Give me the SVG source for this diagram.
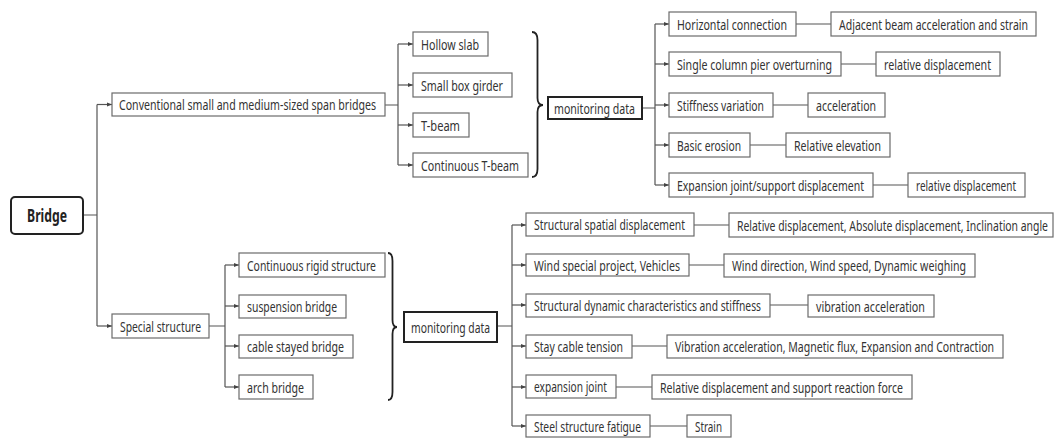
<svg xmlns="http://www.w3.org/2000/svg" width="1056" height="439" viewBox="0 0 1056 439">
<defs>
<style>
.b{fill:#fff;stroke:#6b6b6b;stroke-width:1.2}
.k{fill:#fff;stroke:#222;stroke-width:2}
.t{font-family:"Noto Sans","Liberation Sans",sans-serif;font-size:15px;fill:#333}
.tb{font-family:"Noto Sans","Liberation Sans",sans-serif;font-size:18px;font-weight:bold;fill:#222}
.c{fill:none;stroke:#555;stroke-width:1.2}
.br{fill:none;stroke:#222;stroke-width:1.8}
</style>
<marker id="a" markerUnits="userSpaceOnUse" markerWidth="5" markerHeight="5" refX="5" refY="2.5" orient="auto">
<path d="M0,0.5 L5,2.5 L0,4.5 z" fill="#444"/>
</marker>
</defs>
<rect width="1056" height="439" fill="#fff"/>
<g id="connectors">
<path class="c" d="M83,215 H97 M97,104.5 V326"/>
<path class="c" marker-end="url(#a)" d="M97,104.5 H112"/>
<path class="c" marker-end="url(#a)" d="M97,326 H112"/>
<path class="c" d="M385,105 H398 M398,44 V165"/>
<path class="c" marker-end="url(#a)" d="M398,44 H413"/>
<path class="c" marker-end="url(#a)" d="M398,85 H413"/>
<path class="c" marker-end="url(#a)" d="M398,125 H413"/>
<path class="c" marker-end="url(#a)" d="M398,165 H413"/>
<path class="c" d="M642,108 H655 M655,24 V185"/>
<path class="c" marker-end="url(#a)" d="M655,24 H669"/>
<path class="c" marker-end="url(#a)" d="M655,64 H669"/>
<path class="c" marker-end="url(#a)" d="M655,105 H669"/>
<path class="c" marker-end="url(#a)" d="M655,145 H669"/>
<path class="c" marker-end="url(#a)" d="M655,185 H669"/>
<path class="c" d="M796,24 H831 M841,64 H876 M773,105 H808 M750,145 H786 M873,185 H908"/>
<path class="c" d="M209,326 H225 M225,265 V387"/>
<path class="c" marker-end="url(#a)" d="M225,265 H239"/>
<path class="c" marker-end="url(#a)" d="M225,306 H239"/>
<path class="c" marker-end="url(#a)" d="M225,346 H239"/>
<path class="c" marker-end="url(#a)" d="M225,387 H239"/>
<path class="c" d="M497,326 H512 M512,225 V426"/>
<path class="c" marker-end="url(#a)" d="M512,225 H526"/>
<path class="c" marker-end="url(#a)" d="M512,265 H526"/>
<path class="c" marker-end="url(#a)" d="M512,305 H526"/>
<path class="c" marker-end="url(#a)" d="M512,346 H526"/>
<path class="c" marker-end="url(#a)" d="M512,387 H526"/>
<path class="c" marker-end="url(#a)" d="M512,426 H526"/>
<path class="c" d="M694,225 H729 M689,265 H724 M770,305 H808 M632,346 H667 M616,387 H652 M650,426 H687"/>
</g>
<g id="brace-top"><path class="br" d="M532,32 Q537.5,32 537.5,40 L537.5,98 Q537.5,105 543,105 Q537.5,105 537.5,112 L537.5,169 Q537.5,177 532,177"/></g>
<g id="brace-bottom"><path class="br" d="M388,253 Q392.5,253 392.5,261 L392.5,320 Q392.5,327 397,327 Q392.5,327 392.5,334 L392.5,392 Q392.5,400 388,400"/></g>
<g id="bridge"><rect class="k" x="11" y="197" width="72" height="37" rx="4"/><text class="tb" x="27" y="222" textLength="40" lengthAdjust="spacingAndGlyphs">Bridge</text></g>
<g id="conventional"><rect class="b" x="112" y="93" width="273" height="23"/><text class="t" x="119" y="110" textLength="257" lengthAdjust="spacingAndGlyphs">Conventional small and medium-sized span bridges</text></g>
<g id="special"><rect class="b" x="112" y="314" width="97" height="24"/><text class="t" x="120" y="331.5" textLength="81" lengthAdjust="spacingAndGlyphs">Special structure</text></g>
<g id="hollow"><rect class="b" x="413" y="32" width="75" height="24"/><text class="t" x="421" y="49.5" textLength="58" lengthAdjust="spacingAndGlyphs">Hollow slab</text></g>
<g id="smallbox"><rect class="b" x="413" y="73" width="99" height="24"/><text class="t" x="421" y="90.5" textLength="82" lengthAdjust="spacingAndGlyphs">Small box girder</text></g>
<g id="tbeam"><rect class="b" x="413" y="113" width="56" height="24"/><text class="t" x="421" y="130.5" textLength="39" lengthAdjust="spacingAndGlyphs">T-beam</text></g>
<g id="ctbeam"><rect class="b" x="413" y="153" width="115" height="24"/><text class="t" x="421" y="170.5" textLength="98" lengthAdjust="spacingAndGlyphs">Continuous T-beam</text></g>
<g id="monitor1"><rect class="k" x="548" y="97" width="94" height="22"/><text class="t" x="554" y="113.5" textLength="81" lengthAdjust="spacingAndGlyphs">monitoring data</text></g>
<g id="hconn"><rect class="b" x="669" y="12" width="127" height="24"/><text class="t" x="677" y="29.5" textLength="110" lengthAdjust="spacingAndGlyphs">Horizontal connection</text></g>
<g id="adjacent"><rect class="b" x="831" y="12" width="205" height="24"/><text class="t" x="839" y="29.5" textLength="189" lengthAdjust="spacingAndGlyphs">Adjacent beam acceleration and strain</text></g>
<g id="single"><rect class="b" x="669" y="52" width="172" height="24"/><text class="t" x="677" y="69.5" textLength="155" lengthAdjust="spacingAndGlyphs">Single column pier overturning</text></g>
<g id="reldisp1"><rect class="b" x="876" y="52" width="124" height="24"/><text class="t" x="884" y="69.5" textLength="107" lengthAdjust="spacingAndGlyphs">relative displacement</text></g>
<g id="stiff"><rect class="b" x="669" y="93" width="104" height="24"/><text class="t" x="677" y="110.5" textLength="87" lengthAdjust="spacingAndGlyphs">Stiffness variation</text></g>
<g id="accel"><rect class="b" x="808" y="93" width="77" height="24"/><text class="t" x="816" y="110.5" textLength="60" lengthAdjust="spacingAndGlyphs">acceleration</text></g>
<g id="erosion"><rect class="b" x="669" y="133" width="81" height="24"/><text class="t" x="677" y="150.5" textLength="64" lengthAdjust="spacingAndGlyphs">Basic erosion</text></g>
<g id="relelev"><rect class="b" x="786" y="133" width="104" height="24"/><text class="t" x="794" y="150.5" textLength="87" lengthAdjust="spacingAndGlyphs">Relative elevation</text></g>
<g id="expsupport"><rect class="b" x="669" y="173" width="204" height="24"/><text class="t" x="677" y="190.5" textLength="187" lengthAdjust="spacingAndGlyphs">Expansion joint/support displacement</text></g>
<g id="reldisp2"><rect class="b" x="908" y="173" width="117" height="24"/><text class="t" x="916" y="190.5" textLength="100" lengthAdjust="spacingAndGlyphs">relative displacement</text></g>
<g id="rigid"><rect class="b" x="239" y="253" width="146" height="24"/><text class="t" x="247" y="270.5" textLength="129" lengthAdjust="spacingAndGlyphs">Continuous rigid structure</text></g>
<g id="suspension"><rect class="b" x="239" y="295" width="107" height="23"/><text class="t" x="247" y="312" textLength="90" lengthAdjust="spacingAndGlyphs">suspension bridge</text></g>
<g id="cable"><rect class="b" x="239" y="335" width="114" height="23"/><text class="t" x="247" y="352" textLength="97" lengthAdjust="spacingAndGlyphs">cable stayed bridge</text></g>
<g id="arch"><rect class="b" x="239" y="375" width="74" height="24"/><text class="t" x="247" y="392.5" textLength="57" lengthAdjust="spacingAndGlyphs">arch bridge</text></g>
<g id="monitor2"><rect class="k" x="404" y="312" width="93" height="30"/><text class="t" x="411" y="332.5" textLength="79" lengthAdjust="spacingAndGlyphs">monitoring data</text></g>
<g id="spatial"><rect class="b" x="526" y="213" width="168" height="23"/><text class="t" x="534" y="230" textLength="151" lengthAdjust="spacingAndGlyphs">Structural spatial displacement</text></g>
<g id="reldispabs"><rect class="b" x="729" y="213" width="324" height="24"/><text class="t" x="737" y="230.5" textLength="311" lengthAdjust="spacingAndGlyphs">Relative displacement, Absolute displacement, Inclination angle</text></g>
<g id="wind"><rect class="b" x="526" y="254" width="163" height="22"/><text class="t" x="534" y="270.5" textLength="146" lengthAdjust="spacingAndGlyphs">Wind special project, Vehicles</text></g>
<g id="winddir"><rect class="b" x="724" y="254" width="251" height="23"/><text class="t" x="732" y="271" textLength="234" lengthAdjust="spacingAndGlyphs">Wind direction, Wind speed, Dynamic weighing</text></g>
<g id="dynamic"><rect class="b" x="526" y="294" width="244" height="23"/><text class="t" x="534" y="311" textLength="227" lengthAdjust="spacingAndGlyphs">Structural dynamic characteristics and stiffness</text></g>
<g id="vibacc"><rect class="b" x="808" y="295" width="126" height="22"/><text class="t" x="816" y="311.5" textLength="109" lengthAdjust="spacingAndGlyphs">vibration acceleration</text></g>
<g id="staycable"><rect class="b" x="526" y="335" width="106" height="23"/><text class="t" x="534" y="352" textLength="89" lengthAdjust="spacingAndGlyphs">Stay cable tension</text></g>
<g id="vibmag"><rect class="b" x="667" y="335" width="336" height="23"/><text class="t" x="675" y="352" textLength="319" lengthAdjust="spacingAndGlyphs">Vibration acceleration, Magnetic flux, Expansion and Contraction</text></g>
<g id="expjoint"><rect class="b" x="526" y="375" width="90" height="23"/><text class="t" x="534" y="392" textLength="73" lengthAdjust="spacingAndGlyphs">expansion joint</text></g>
<g id="reldispsupport"><rect class="b" x="652" y="375" width="260" height="24"/><text class="t" x="660" y="392.5" textLength="243" lengthAdjust="spacingAndGlyphs">Relative displacement and support reaction force</text></g>
<g id="steel"><rect class="b" x="526" y="415" width="124" height="22"/><text class="t" x="534" y="431.5" textLength="107" lengthAdjust="spacingAndGlyphs">Steel structure fatigue</text></g>
<g id="strain"><rect class="b" x="687" y="415" width="44" height="22"/><text class="t" x="695" y="431.5" textLength="27" lengthAdjust="spacingAndGlyphs">Strain</text></g>
</svg>
